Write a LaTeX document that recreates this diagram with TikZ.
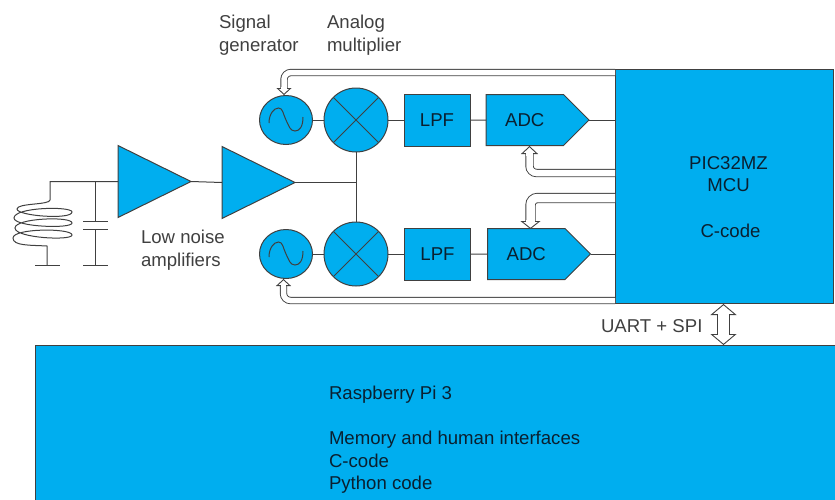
\documentclass[tikz,border=0pt]{standalone}
\usepackage{fontspec}
\setmainfont{Liberation Sans}
\usepackage{xcolor}
\usetikzlibrary{arrows.meta,shapes.geometric,shapes.symbols,positioning,calc}
\definecolor{blockblue}{HTML}{00AEEF}
\definecolor{wiregray}{HTML}{404040}
\definecolor{blocktext}{HTML}{0A2030}

\begin{document}
\begin{tikzpicture}[
    x=1pt, y=-1pt,
    every node/.style={font=\fontsize{18.6}{22.5}\selectfont, text=wiregray, inner sep=0pt, outer sep=0pt},
    wire/.style={draw=wiregray, line width=1pt},
    block/.style={rectangle, wire, fill=blockblue, text=blocktext, minimum width=66pt, minimum height=52pt},
    adcbox/.style={signal, signal to=east, signal pointer angle=90, wire, fill=blockblue, text=blocktext, minimum width=103pt, minimum height=51pt},
    amp/.style={isosceles triangle, isosceles triangle stretches, wire, fill=blockblue, minimum width=72pt, minimum height=73pt, anchor=lower side},
    mixer/.style={circle, wire, fill=blockblue, minimum size=64pt, path picture={
        \draw[wire] (path picture bounding box.center) +(-24,-24) -- +(24,24) +(-24,24) -- +(24,-24);}},
    osc/.style={ellipse, wire, fill=blockblue, minimum width=53pt, minimum height=49pt, path picture={
        \draw[wire, shift={(path picture bounding box.center)}] (-17,3) .. controls (-17,-6) and (-12,-12) .. (-7.5,-12)
            .. controls (-3,-12) and (-3,-6) .. (0,0) .. controls (3,6) and (4,11) .. (9,11)
            .. controls (14,11) and (17,6) .. (17,-3);}},
    bus/.style={draw=wiregray, line width=.9pt, double=white, double distance=5.5pt, rounded corners=7pt,
        -{Triangle[open, fill=white, length=7pt, width=15pt]}},
    txt/.style={align=left, anchor=west},
    intxt/.style={txt, text=blocktext}
]
    \useasboundingbox (0,0) rectangle (835,499);

    % main blocks
    \node[block, minimum width=218pt, minimum height=234pt] (mcu) at (724,186) {};
    \node[block, minimum width=802pt, minimum height=156pt] (pi) at (436,423) {};

    % top channel
    \node[osc] (osctop) at (286,120) {};
    \node[mixer, right=70pt of osctop.center, anchor=center] (mixtop) {};
    \node[block, anchor=west] (lpftop) at (404,120) {LPF};
    \node[adcbox, anchor=west, right=16pt of lpftop] (adctop) {ADC};

    % bottom channel
    \node[osc] (oscbot) at (286,254) {};
    \node[mixer, right=70pt of oscbot.center, anchor=center] (mixbot) {};
    \node[block, anchor=west] (lpfbot) at (404.5,254) {LPF};
    \node[adcbox, anchor=west, right=17pt of lpfbot] (adcbot) {ADC};

    % amplifiers
    \node[amp] (lnaone) at (118,181.5) {};
    \node[amp] (lnatwo) at (222,182.5) {};

    % labels
    \node[txt] (siglabel) at (219,35) {Signal\\generator};
    \node[txt] (mullabel) at (327,35) {Analog\\multiplier};
    \node[txt] (lowlabel) at (141,250) {Low noise\\amplifiers};
    \node[intxt, align=center, anchor=center] (mculabel) at (728.5,174) {PIC32MZ\\MCU};
    \node[intxt] (codelabel) at (700.5,231) {C-code};
    \node[txt] (uartlabel) at (601,326) {UART + SPI};
    \node[intxt] (pilabel) at (329,440) {Raspberry Pi 3\\[22.5pt]Memory and human interfaces\\C-code\\Python code};

    % junctions and free ends
    \coordinate (split) at (mixtop |- lnatwo.apex);
    \coordinate (tank) at (95,181.5);
    \coordinate (coiltop) at (50,181.5);
    \coordinate (coilend) at (47,246);
    \coordinate (coilgnd) at (47,265);
    \coordinate (capup) at (95,221);
    \coordinate (capdown) at (95,229);
    \coordinate (capgnd) at (95,265);

    % signal path
    \draw[wire] (osctop) -- (mixtop);
    \draw[wire] (mixtop) -- (lpftop);
    \draw[wire] (lpftop) -- (adctop);
    \draw[wire] (adctop.east) -- (adctop.east -| mcu.west);
    \draw[wire] (oscbot) -- (mixbot);
    \draw[wire] (mixbot) -- (lpfbot);
    \draw[wire] (lpfbot) -- (adcbot);
    \draw[wire] (adcbot.east) -- (adcbot.east -| mcu.west);
    \draw[wire] (mixtop) -- (mixbot);
    \draw[wire] (lnatwo.apex) -- (split);
    \draw[wire] (lnaone.apex) -- (lnatwo.lower side);

    % tank circuit
    \draw[wire] (lnaone.lower side) -- (coiltop) -- (50,200)
        .. controls (50,205) and (17,203) .. (17,209)
        .. controls (17,216) and (72,220) .. (72,212)
        .. controls (72,206) and (14,207) .. (14,218)
        .. controls (14,227) and (72,229) .. (72,223)
        .. controls (72,216) and (15,218) .. (15,228)
        .. controls (15,238) and (72,241) .. (72,235)
        .. controls (72,228) and (13,228) .. (13,238)
        .. controls (13,246) and (30,245) .. (coilend) -- (coilgnd);
    \draw[wire] (35,265) -- (60,265);
    \draw[wire] (tank) -- (capup);
    \draw[wire] (capdown) -- (capgnd);
    \draw[wire] (83,221) -- (108,221);
    \draw[wire] (83,229) -- (108,229);
    \draw[wire] (83,265) -- (108,265);

    % hollow control arrows
    \coordinate (busa) at (mcu.west |- 0,72.5);
    \coordinate (busb) at (mcu.west |- 0,173);
    \coordinate (busc) at (mcu.west |- 0,198);
    \coordinate (busd) at (mcu.west |- 0,300.5);
    \coordinate (linkup) at (723.5,304);
    \coordinate (linkdown) at (723.5,345);
    \draw[bus] (busa) -| (284,95);
    \draw[bus, double distance=6.5pt, -{Triangle[open, fill=white, length=8pt, width=17pt]}] (busb) -| (529.5,146);
    \draw[bus, double distance=8.5pt, -{Triangle[open, fill=white, length=8pt, width=20pt]}] (busc) -| (530.5,229);
    \draw[bus] (busd) -| (283.5,279);
    \draw[bus, double distance=10.5pt, rounded corners=0pt,
        {Triangle[open, fill=white, length=11pt, width=26pt]}-{Triangle[open, fill=white, length=11pt, width=26pt]}]
        (linkup) -- (linkdown);
    % open the heads into their shafts
    \foreach \busx/\busy/\busw in {284/88/5.5, 529.5/154/6.5, 530.5/221/8.5, 283.5/286/5.5, 723.5/315/10.5, 723.5/334/10.5}
        \draw[white, line width=\busw pt] (\busx,\busy-1.5) -- (\busx,\busy+1.5);
\end{tikzpicture}
\end{document}
